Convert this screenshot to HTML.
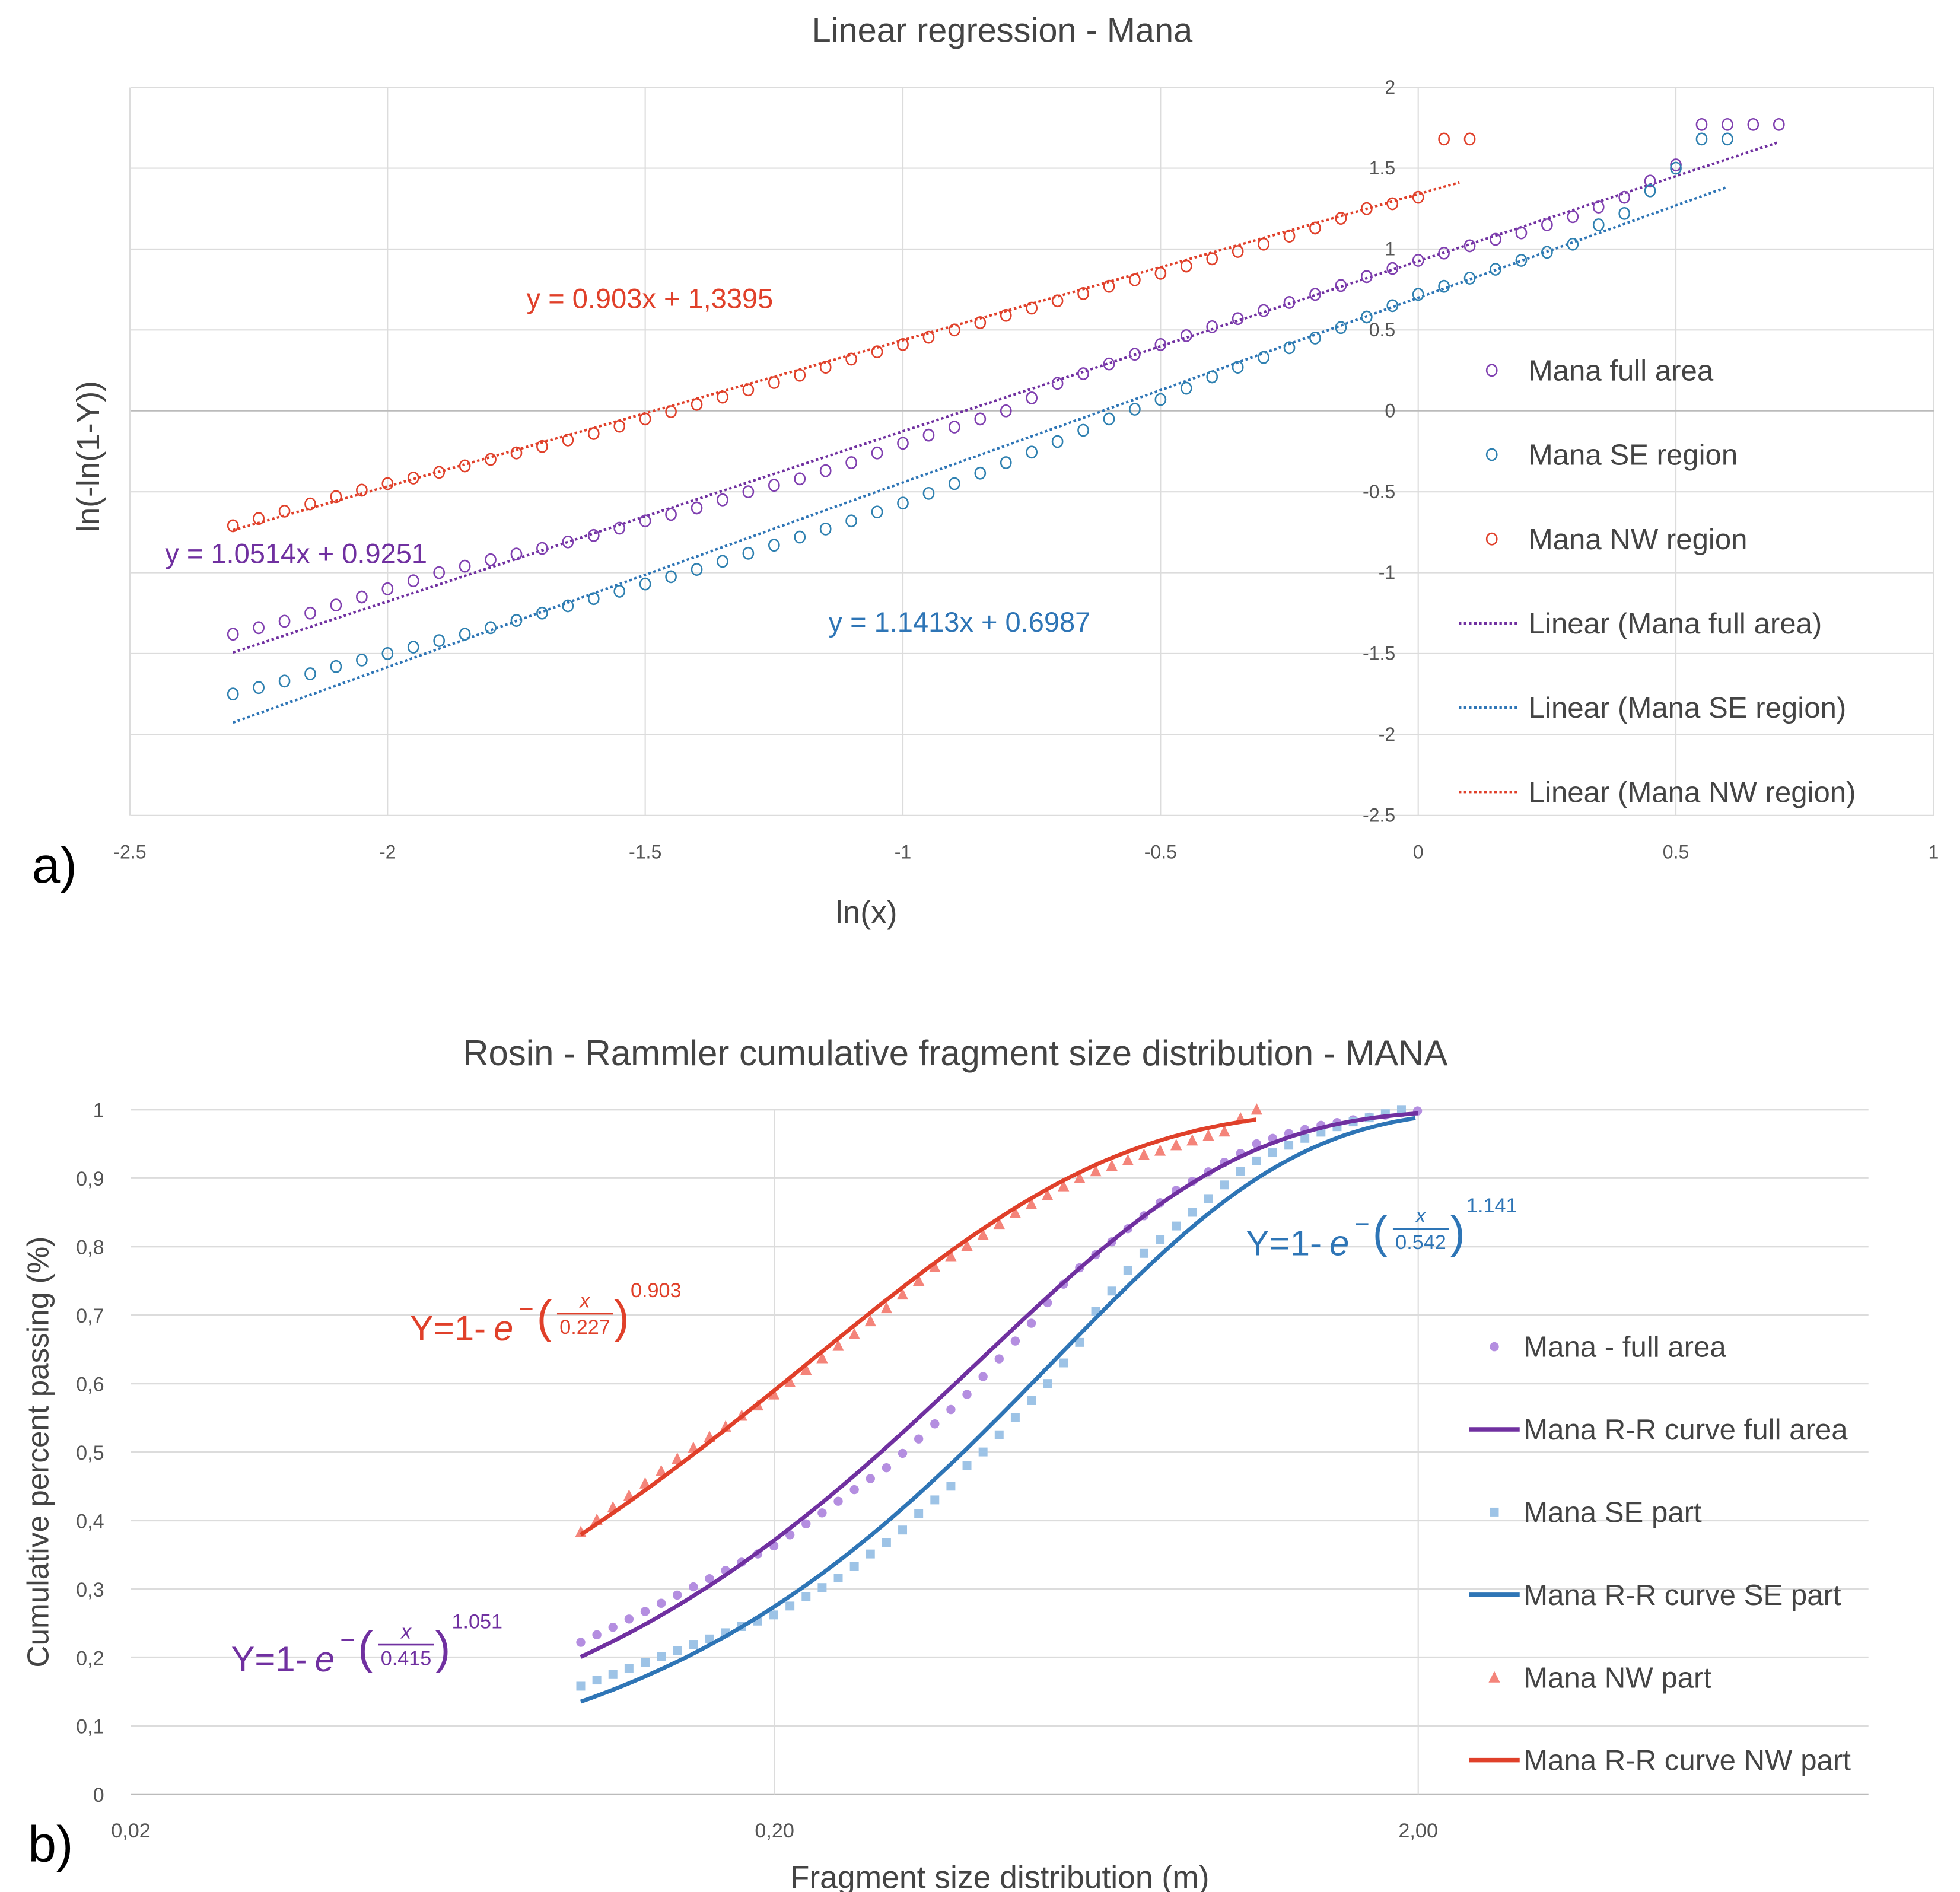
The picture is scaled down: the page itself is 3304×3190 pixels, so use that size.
<!DOCTYPE html>
<html><head><meta charset="utf-8"><style>
html,body{margin:0;padding:0;background:#fff}
svg{display:block}
text{font-family:"Liberation Sans",sans-serif}
</style></head><body>
<svg id="fig" xmlns="http://www.w3.org/2000/svg" width="3304" height="3190" viewBox="0 0 1545 1492"></svg>
<script>
function range(a,b,s){const r=[];for(let v=a;v<=b+1e-9;v+=s)r.push(Math.round(v*1000)/1000);return r;}
// ---------- Chart A data ----------
const aFullX = range(-2.3,0.7,0.05);
const aFullY = [-1.38,-1.34,-1.30,-1.25,-1.2,-1.15,-1.1,-1.05,-1.0,-0.96,-0.92,-0.885,-0.85,-0.81,-0.77,-0.725,-0.68,-0.64,-0.60,-0.55,-0.50,-0.46,-0.42,-0.37,-0.32,-0.26,-0.2,-0.15,-0.1,-0.05,0.0,0.08,0.17,0.23,0.29,0.35,0.41,0.465,0.52,0.57,0.62,0.67,0.72,0.775,0.83,0.88,0.93,0.975,1.02,1.06,1.1,1.15,1.2,1.26,1.32,1.42,1.52,1.77,1.77,1.77,1.77];
const aSEX = range(-2.3,0.6,0.05);
const aSEY = [-1.75,-1.71,-1.67,-1.625,-1.58,-1.54,-1.5,-1.46,-1.42,-1.38,-1.34,-1.295,-1.25,-1.205,-1.16,-1.115,-1.07,-1.025,-0.98,-0.93,-0.88,-0.83,-0.78,-0.73,-0.68,-0.625,-0.57,-0.51,-0.45,-0.385,-0.32,-0.255,-0.19,-0.12,-0.05,0.01,0.07,0.14,0.21,0.27,0.33,0.39,0.45,0.515,0.58,0.65,0.72,0.77,0.82,0.875,0.93,0.98,1.03,1.15,1.22,1.36,1.5,1.68,1.68];
const aNWX = range(-2.3,0.1,0.05);
const aNWY = [-0.71,-0.665,-0.62,-0.575,-0.53,-0.49,-0.45,-0.415,-0.38,-0.34,-0.3,-0.26,-0.22,-0.18,-0.14,-0.095,-0.05,-0.005,0.04,0.085,0.13,0.175,0.22,0.27,0.32,0.365,0.41,0.455,0.5,0.545,0.59,0.635,0.68,0.725,0.77,0.81,0.85,0.895,0.94,0.985,1.03,1.08,1.13,1.19,1.25,1.28,1.32,1.68,1.68];
const aTrendSlope = [1.0514,1.1413,0.903];
const aTrendIntercept = [0.9251,0.6987,1.3395];
const aTrendStart = [-2.3,-2.3,-2.3];
const aTrendEnd = [0.7,0.6,0.08];
const aXTicks = [-2.5,-2,-1.5,-1,-0.5,0,0.5,1];
const aYTicks = [2,1.5,1,0.5,0,-0.5,-1,-1.5,-2,-2.5];
// ---------- Chart B data ----------
const bFullX = range(0,1.3,0.025).map(u=>0.1*Math.pow(10,u));
const bFullY = [.222,.233,.244,.256,.267,.279,.291,.303,.315,.327,.339,.351,.363,.379,.395,.411,.428,.445,.461,.477,.498,.519,.541,.562,.584,.61,.636,.662,.688,.718,.745,.769,.788,.807,.826,.845,.864,.882,.895,.909,.923,.936,.95,.958,.965,.971,.977,.981,.985,.989,.992,.995,.998];
const bSEX = range(0,1.275,0.025).map(u=>0.1*Math.pow(10,u));
const bSEY = [.158,.167,.175,.184,.193,.201,.210,.219,.227,.236,.245,.253,.262,.275,.289,.302,.316,.333,.351,.368,.386,.41,.43,.45,.48,.50,.525,.55,.575,.60,.63,.66,.705,.735,.765,.79,.81,.83,.85,.87,.89,.91,.925,.937,.948,.958,.967,.975,.982,.988,.994,1.0];
const bNWX = range(0,1.05,0.025).map(u=>0.1*Math.pow(10,u));
const bNWY = [.383,.401,.419,.436,.454,.472,.490,.506,.522,.537,.553,.568,.584,.602,.62,.637,.655,.672,.691,.71,.73,.75,.77,.786,.801,.817,.833,.849,.862,.875,.888,.90,.91,.918,.926,.934,.94,.948,.955,.962,.968,.987,1.0];
const bFitX0 = [0.415,0.542,0.227];
const bFitN = [1.051,1.141,0.903];
const bFitEnd = [2.0,1.98,1.12];
const bXTicks = [0.02,0.2,2];
const bXTickLabels = ["0,02","0,20","2,00"];
const bYTicks = [0,0.1,0.2,0.3,0.4,0.5,0.6,0.7,0.8,0.9,1];
const bYTickLabels = ["0","0,1","0,2","0,3","0,4","0,5","0,6","0,7","0,8","0,9","1"];

const NS="http://www.w3.org/2000/svg";
const svg=document.getElementById('fig');
function mk(tag,attrs,parent){const e=document.createElementNS(NS,tag);for(const k in attrs)e.setAttribute(k,attrs[k]);(parent||svg).appendChild(e);return e;}
function txt(s,attrs,parent){const e=mk('text',attrs,parent);e.textContent=s;return e;}

// Chart A axes
const ax=v=>1118+v*406.3;
const ay=v=>324-v*127.6;
const colP="#7030a0",colB="#2e75b6",colR="#e0402a";
let t=txt("Linear regression - Mana",{x:790,y:33,"font-size":27,fill:"#444","text-anchor":"middle"});


for(const v of aXTicks){
  const l=mk('line',{x1:ax(v),x2:ax(v),y1:69,y2:643,stroke:"#dcdcdc","stroke-width":1});
  
  
  const tl=txt(String(v),{x:ax(v),y:677,"font-size":15,fill:"#555","text-anchor":"middle"});
  
  
}
for(const v of aYTicks){
  const l=mk('line',{x1:103,x2:1525,y1:ay(v),y2:ay(v),stroke:v===0?"#bbb":"#dcdcdc","stroke-width":1});
  
  
  const tl=txt(String(v),{x:1100,y:ay(v)+5,"font-size":15,fill:"#555","text-anchor":"end"});
  
  
}
t=txt("ln(x)",{x:683,y:728,"font-size":25,fill:"#444","text-anchor":"middle"});


t=txt("ln(-ln(1-Y))",{x:0,y:0,"font-size":25,fill:"#444","text-anchor":"middle",transform:"translate(78,360) rotate(-90)"});


t=txt("a)",{x:25,y:696,"font-size":40,fill:"#000"});



const aSeries=[[aFullX,aFullY,"#8040b0"],[aSEX,aSEY,"#2e80b0"],[aNWX,aNWY,"#e0402a"]];
aSeries.forEach(([xs,ys,c],i)=>{
  const tr=mk('line',{x1:ax(aTrendStart[i]),y1:ay(aTrendSlope[i]*aTrendStart[i]+aTrendIntercept[i]),x2:ax(aTrendEnd[i]),y2:ay(aTrendSlope[i]*aTrendEnd[i]+aTrendIntercept[i]),stroke:[colP,colB,colR][i],"stroke-width":2,"stroke-dasharray":"2,2"});
  
  
  ys.forEach((y,j)=>{
    const p=mk('ellipse',{cx:ax(xs[j]),cy:ay(y),rx:4,ry:4.5,fill:"none",stroke:c,"stroke-width":1.2});
    
    
  });
});
t=txt("y = 0.903x + 1,3395",{x:415,y:243,"font-size":22,fill:colR});


t=txt("y = 1.0514x + 0.9251",{x:130,y:444,"font-size":22,fill:colP});


t=txt("y = 1.1413x + 0.6987",{x:653,y:498,"font-size":22,fill:colB});


const aLeg=[["Mana full area","#8040b0",0],["Mana SE region","#2e80b0",0],["Mana NW region","#e0402a",0],["Linear (Mana full area)",colP,1],["Linear (Mana SE region)",colB,1],["Linear (Mana NW region)",colR,1]];
aLeg.forEach(([s,c,ln],i)=>{
  const y=292+i*66.5;
  if(ln){const l=mk('line',{x1:1150,x2:1198,y1:y,y2:y,stroke:c,"stroke-width":2,"stroke-dasharray":"2,2"});
    
    }
  else{const m=mk('ellipse',{cx:1176,cy:y,rx:4,ry:4.5,fill:"none",stroke:c,"stroke-width":1.2});
    
    }
  const tl=txt(s,{x:1205,y:y+8,"font-size":23,fill:"#444"});
  
  
});

// Chart B
const bx=v=>103+507.5*Math.log10(v/0.02);
const by=v=>1415-v*540;
t=txt("Rosin - Rammler cumulative fragment size distribution - MANA",{x:753,y:840,"font-size":28,fill:"#444","text-anchor":"middle"});


bYTicks.forEach((v,i)=>{
  const l=mk('line',{x1:103,x2:1473,y1:by(v),y2:by(v),stroke:v===0?"#bbb":"#dcdcdc","stroke-width":1.5});
  
  
  const tl=txt(bYTickLabels[i],{x:82,y:by(v)+6,"font-size":16,fill:"#555","text-anchor":"end"});
  
  
});
bXTicks.forEach((v,i)=>{
  if(i>0){const l=mk('line',{x1:bx(v),x2:bx(v),y1:875,y2:1415,stroke:"#dcdcdc","stroke-width":1});
    
    }
  const tl=txt(bXTickLabels[i],{x:bx(v),y:1449,"font-size":16,fill:"#555","text-anchor":"middle"});
  
  
});
t=txt("Fragment size distribution (m)",{x:788,y:1489,"font-size":25,fill:"#444","text-anchor":"middle"});


t=txt("Cumulative percent passing (%)",{x:0,y:0,"font-size":24,fill:"#444","text-anchor":"middle",transform:"translate(38,1145) rotate(-90)"});


t=txt("b)",{x:22,y:1468,"font-size":40,fill:"#000"});



bFullY.forEach((v,k)=>{
  const p=mk('circle',{cx:bx(bFullX[k]),cy:by(v),r:3.6,fill:"#b48ee0"});
  
  
});
bSEY.forEach((v,k)=>{
  const p=mk('rect',{x:bx(bSEX[k])-3.5,y:by(v)-3.5,width:7,height:7,fill:"#9dc3e6"});
  
  
});
bNWY.forEach((v,k)=>{
  const X=bx(bNWX[k]),Y=by(v);
  const p=mk('polygon',{points:`${X},${Y-5} ${X+4.5},${Y+4} ${X-4.5},${Y+4}`,fill:"#f4847a"});
  
  
});
const fitCols=["#7030a0","#2e75b6","#e0402a"];
[0,1,2].forEach(i=>{
  let d="";
  for(let j=0;j<=80;j++){
    const x=0.1*Math.pow(bFitEnd[i]/0.1,j/80);
    const y=1-Math.exp(-Math.pow(x/bFitX0[i],bFitN[i]));
    d+=(j?"L":"M")+bx(x).toFixed(1)+","+by(y).toFixed(1);
  }
  const p=mk('path',{d:d,fill:"none",stroke:fitCols[i],"stroke-width":3.2});
  
  
});
function eq(x,y,c,x0,n,name){
  const g=mk('g',{fill:c,"font-family":"Liberation Serif,serif"});
  
  
  txt("Y=1-",{x:x,y:y,"font-size":28,"font-family":"Liberation Serif,serif"},g);
  txt("e",{x:x+66,y:y,"font-size":28,"font-style":"italic","font-family":"Liberation Serif,serif"},g);
  txt("−",{x:x+86,y:y-18,"font-size":20,"font-family":"Liberation Serif,serif"},g);
  txt("(",{x:x+100,y:y-6,"font-size":36,"font-family":"Liberation Serif,serif"},g);
  txt("x",{x:x+138,y:y-26,"font-size":16,"font-style":"italic","text-anchor":"middle","font-family":"Liberation Serif,serif"},g);
  mk('line',{x1:x+116,x2:x+160,y1:y-21,y2:y-21,stroke:c,"stroke-width":1.2},g);
  txt(String(x0),{x:x+138,y:y-5,"font-size":16,"text-anchor":"middle","font-family":"Liberation Serif,serif"},g);
  txt(")",{x:x+161,y:y-6,"font-size":36,"font-family":"Liberation Serif,serif"},g);
  txt(String(n),{x:x+174,y:y-34,"font-size":16,"font-family":"Liberation Serif,serif"},g);
}
eq(323,1057,"#e0402a","0.227","0.903","nw-rr-equation");
eq(182,1318,"#7030a0","0.415","1.051","full-rr-equation");
eq(982,990,"#2e75b6","0.542","1.141","se-rr-equation");
const bLeg=[["Mana - full area","#b48ee0","c"],["Mana R-R curve full area","#7030a0","l"],["Mana SE part","#9dc3e6","s"],["Mana R-R curve SE part","#2e75b6","l"],["Mana NW part","#f4847a","t"],["Mana R-R curve NW part","#e0402a","l"]];
bLeg.forEach(([s,c,k],i)=>{
  const y=1062+i*65.2;
  let m;
  if(k==="l")m=mk('line',{x1:1158,x2:1198,y1:y,y2:y,stroke:c,"stroke-width":3.5});
  else if(k==="c")m=mk('circle',{cx:1178,cy:y,r:3.6,fill:c});
  else if(k==="s")m=mk('rect',{x:1174.5,y:y-3.5,width:7,height:7,fill:c});
  else m=mk('polygon',{points:`1178,${y-5} 1182.5,${y+4} 1173.5,${y+4}`,fill:c});
  
  
  const tl=txt(s,{x:1201,y:y+8,"font-size":23,fill:"#444"});
  
  
});
</script>
</body></html>
